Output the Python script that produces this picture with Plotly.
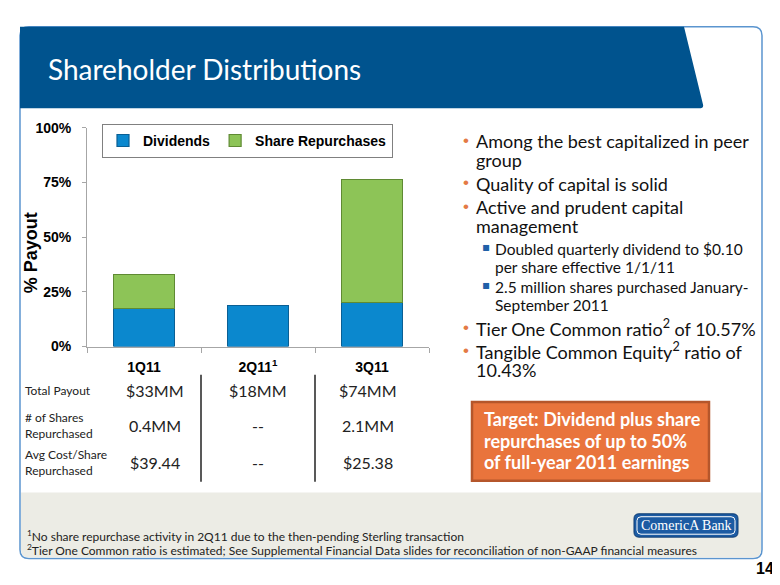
import plotly.graph_objects as go

# chart data (percent of earnings paid out)
quarters = ["1Q11", "2Q11", "3Q11"]
quarter_labels = ["1Q11", "2Q11<sup>1</sup>", "3Q11"]
dividends = [17.3, 18.7, 20.0]
repurchases = [15.6, None, 56.4]
y_ticks = [0, 25, 50, 75, 100]

# table under the chart
row_names = [["Total Payout"], ["# of Shares", "Repurchased"], ["Avg Cost/Share", "Repurchased"]]
total_payout = ["$33MM", "$18MM", "$74MM"]
shares_repurchased = ["0.4MM", "--", "2.1MM"]
avg_cost = ["$39.44", "--", "$25.38"]

# right hand bullets: (level, lines)
bullets = [
    (1, ["Among the best capitalized in peer", "group"]),
    (1, ["Quality of capital is solid"]),
    (1, ["Active and prudent capital", "management"]),
    (2, ["Doubled quarterly dividend to $0.10", "per share effective 1/1/11"]),
    (2, ["2.5 million shares purchased January-", "September 2011"]),
    (1, ["Tier One Common ratio<sup>2</sup> of 10.57%"]),
    (1, ["Tangible Common Equity<sup>2</sup> ratio of", "10.43%"]),
]
target_lines = ["Target: Dividend plus share", "repurchases of up to 50%", "of full-year 2011 earnings"]
footnotes = [
    "<sup>1</sup>No share repurchase activity in 2Q11 due to the then-pending Sterling transaction",
    "<sup>2</sup>Tier One Common ratio is estimated; See Supplemental Financial Data slides for reconciliation of non-GAAP financial measures",
]

# the page body has an 8px margin, so the figure is drawn 8px in and 8px smaller
OFF = 8
W, H = 780 - OFF, 585 - OFF
ARIAL = "Liberation Sans"
CAL = "Lato"


def X(px):
    return (px - OFF) / W


def Y(py):
    return 1 - (py - OFF) / H


def pt(x, y):
    return f"{X(x):.5f},{Y(y):.5f}"


def rounded_path(x0, y0, x1, y1, r, top=True, bottom=True):
    p = []
    if top:
        p.append(f"M {pt(x0, y0 + r)} Q {pt(x0, y0)} {pt(x0 + r, y0)} L {pt(x1 - r, y0)} Q {pt(x1, y0)} {pt(x1, y0 + r)}")
    else:
        p.append(f"M {pt(x0, y0)} L {pt(x1, y0)}")
    if bottom:
        p.append(f"L {pt(x1, y1 - r)} Q {pt(x1, y1)} {pt(x1 - r, y1)} L {pt(x0 + r, y1)} Q {pt(x0, y1)} {pt(x0, y1 - r)} Z")
    else:
        p.append(f"L {pt(x1, y1)} L {pt(x0, y1)} Z")
    return " ".join(p)


fig = go.Figure()
fig.add_trace(go.Bar(
    x=quarters, y=dividends, name="Dividends", width=0.53,
    marker=dict(color="#0B88CE", line=dict(color="#0A5F94", width=1.2)),
))
fig.add_trace(go.Bar(
    x=quarters, y=repurchases, name="Share Repurchases", width=0.53,
    marker=dict(color="#8DC457", line=dict(color="#5F8A33", width=1.2)),
))

shapes = [
    # slide panel
    dict(type="path", xref="paper", yref="paper", path=rounded_path(20, 19, 762, 566, 9),
         fillcolor="white", line=dict(color="#5B95CF", width=1.5), layer="below"),
    # grey footer area
    dict(type="path", xref="paper", yref="paper", path=rounded_path(21, 498, 761, 565, 8, top=False),
         fillcolor="#ECECE5", line=dict(width=0), layer="below"),
    # header band
    dict(type="path", xref="paper", yref="paper",
         path=f"M {pt(20, 19)} L {pt(684, 19)} L {pt(703, 99)} Q {pt(704, 103)} {pt(699, 103)} L {pt(20, 103)} Z",
         fillcolor="#00538E", line=dict(width=0), layer="below"),
    # target box
    dict(type="rect", xref="paper", yref="paper", x0=X(472), x1=X(709), y0=Y(486), y1=Y(405),
         fillcolor="#E9743C", line=dict(color="#B5562B", width=2.5)),
    # logo
    dict(type="path", xref="paper", yref="paper", path=rounded_path(634, 520, 738, 544, 5),
         fillcolor="#1C5BA3", line=dict(color="#0E3C73", width=1)),
    dict(type="path", xref="paper", yref="paper", path=rounded_path(637, 523, 735, 541, 4),
         fillcolor="rgba(0,0,0,0)", line=dict(color="white", width=1)),
]
# table column separators on the category boundaries
for b in [0.5, 1.5]:
    shapes.append(dict(type="line", xref="x", yref="paper", x0=b, x1=b, y0=Y(487), y1=Y(377),
                       line=dict(color="#222222", width=1.5)))

ann = []
ann.append(dict(text="Shareholder Distributions", x=X(46), y=Y(62), xanchor="left", yanchor="middle",
                font=dict(family=CAL, size=28, color="white")))
ann.append(dict(text="<b>% Payout</b>", x=X(31), y=Y(252), textangle=-90, xanchor="center", yanchor="middle",
                font=dict(family=ARIAL, size=18, color="black")))

# table
row_ys = [393, 429, 467]
col_shift = [11, 0, -4]
for names, cy in zip(row_names, row_ys):
    if len(names) == 1:
        ann.append(dict(text=names[0], x=X(23), y=Y(cy), xanchor="left", yanchor="middle",
                        font=dict(family=CAL, size=12, color="#222222")))
    else:
        for k, nm in enumerate(names):
            ann.append(dict(text=nm, x=X(23), y=Y(cy - 8 + 16 * k), xanchor="left", yanchor="middle",
                            font=dict(family=CAL, size=12, color="#222222")))
for values, cy in zip([total_payout, shares_repurchased, avg_cost], row_ys):
    for q, v, sh in zip(quarters, values, col_shift):
        ann.append(dict(text=v, x=q, xref="x", y=Y(cy), yref="paper", xanchor="center", yanchor="middle",
                        xshift=sh, font=dict(family=CAL, size=16, color="#222222")))

# bullets
cy = 137
prev_level = None
for level, lines in bullets:
    if prev_level is not None:
        cy += 21 if (level == 2 and prev_level == 2) else 24
    if level == 1:
        ann.append(dict(text="•", x=X(461), y=Y(cy - 1), xanchor="left", yanchor="middle",
                        font=dict(family=ARIAL, size=17, color="#E47A45")))
        tx, size, step = 474, 18, 19.5
    else:
        ann.append(dict(text="▪", x=X(480), y=Y(cy - 2), xanchor="left", yanchor="middle",
                        font=dict(family="DejaVu Sans", size=12, color="#2060A8")))
        tx, size, step = 493, 15.5, 18
    for i, line in enumerate(lines):
        if i > 0:
            cy += step
        ann.append(dict(text=line, x=X(tx), y=Y(cy), xanchor="left", yanchor="middle",
                        font=dict(family=CAL, size=size, color="#111111")))
    prev_level = level

# target box text
for i, line in enumerate(target_lines):
    ann.append(dict(text=line, x=X(482), y=Y(423 + 22 * i), xanchor="left", yanchor="middle",
                    font=dict(family=CAL, size=18, color="white", weight="bold")))

# footnotes
for i, line in enumerate(footnotes):
    ann.append(dict(text=line, x=X(25), y=Y(543 + 14 * i), xanchor="left", yanchor="middle",
                    font=dict(family=CAL, size=12, color="#222222")))

ann.append(dict(text="ComericA Bank", x=X(686), y=Y(532), xanchor="center", yanchor="middle",
                font=dict(family="Liberation Serif", size=14, color="white")))
ann.append(dict(text="<b>14</b>", x=X(765), y=Y(576), xanchor="center", yanchor="middle",
                font=dict(family=ARIAL, size=16, color="black")))

for a in ann:
    a.setdefault("xref", "paper")
    a.setdefault("yref", "paper")
    a["showarrow"] = False

fig.update_layout(
    width=W, height=H, margin=dict(l=0, r=0, t=0, b=0),
    paper_bgcolor="white", plot_bgcolor="rgba(0,0,0,0)",
    barmode="stack", bargap=0.47,
    shapes=shapes, annotations=ann,
    legend=dict(orientation="h", x=X(102), y=Y(119), xanchor="left", yanchor="top",
                bordercolor="#808080", borderwidth=1, bgcolor="white",
                font=dict(family=ARIAL, size=14, color="black", weight="bold"),
                traceorder="normal", itemwidth=30),
    xaxis=dict(domain=[X(87), X(429)], categoryorder="array", categoryarray=quarters,
               tickvals=quarters, ticktext=quarter_labels,
               showline=True, linecolor="#A6A6A6", linewidth=1, ticks="outside", tickson="boundaries",
               ticklen=5, tickcolor="#A6A6A6", showgrid=False, zeroline=False, ticklabelstandoff=8,
               tickfont=dict(family=ARIAL, size=14, color="black", weight="bold")),
    yaxis=dict(domain=[Y(348), Y(123)], range=[0, 100], tickvals=y_ticks,
               ticktext=[f"{v}%" for v in y_ticks],
               showline=True, linecolor="#A6A6A6", linewidth=1, ticks="outside", ticklen=4,
               tickcolor="#A6A6A6", showgrid=False, zeroline=False, ticklabelstandoff=8,
               tickfont=dict(family=ARIAL, size=14, color="black", weight="bold")),
)

fig.write_html("out.html")
